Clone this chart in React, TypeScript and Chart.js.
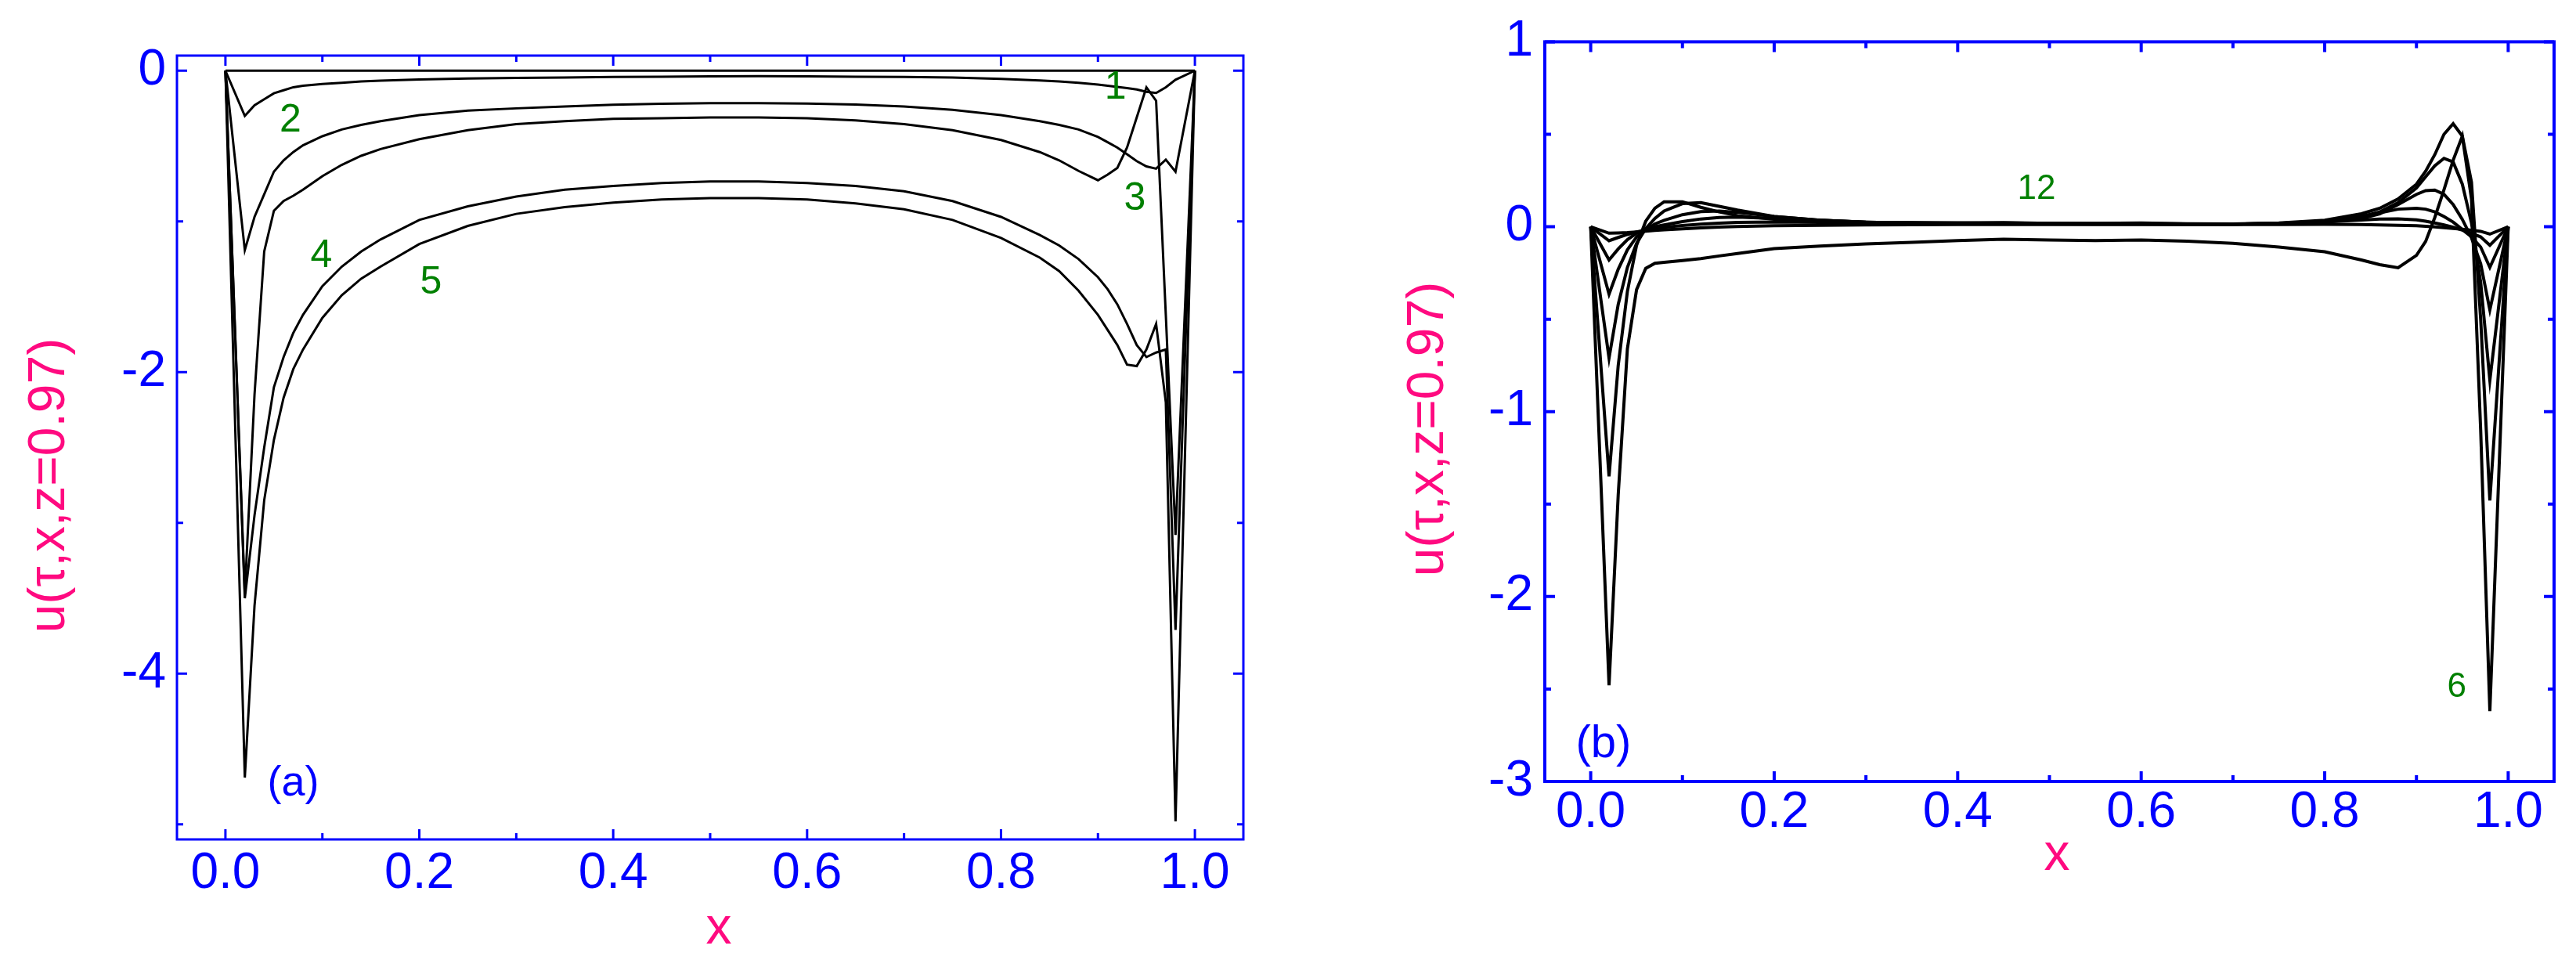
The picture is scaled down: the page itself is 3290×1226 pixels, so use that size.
import React, { useEffect, useRef } from "react";
import { Chart, registerables } from "chart.js";

Chart.register(...registerables);

// ---------------- data ----------------
const X_GRID = [0, 0.02, 0.03, 0.04, 0.05, 0.06, 0.07, 0.08, 0.1, 0.12, 0.14, 0.16, 0.2, 0.25, 0.3, 0.35, 0.4, 0.45, 0.5, 0.55, 0.6, 0.65, 0.7, 0.75, 0.8, 0.84, 0.86, 0.88, 0.9, 0.91, 0.92, 0.93, 0.94, 0.95, 0.96, 0.97, 0.98, 1.0];

// panel (a)
const A0 = [0, 0, 0, 0, 0, 0, 0, 0, 0, 0, 0, 0, 0, 0, 0, 0, 0, 0, 0, 0, 0, 0, 0, 0, 0, 0, 0, 0, 0, 0, 0, 0, 0, 0, 0, 0, 0, 0];
const A1 = [0, -0.30, -0.23, -0.19, -0.15, -0.13, -0.11, -0.10,
  -0.088, -0.08, -0.072, -0.066,
  -0.058, -0.052, -0.048, -0.045, -0.042, -0.04, -0.038, -0.037, -0.038, -0.04, -0.042, -0.046, -0.055,
  -0.065, -0.072, -0.08, -0.092,
  -0.1, -0.108, -0.116, -0.125, -0.14, -0.148, -0.11, -0.06,
  0];
const A2 = [0, -1.19, -0.97, -0.82, -0.67, -0.595, -0.54, -0.495,
  -0.435, -0.39, -0.36, -0.335,
  -0.295, -0.265, -0.25, -0.238, -0.226, -0.22, -0.216, -0.215, -0.218, -0.225, -0.238, -0.26, -0.295,
  -0.335, -0.36, -0.39, -0.44,
  -0.475, -0.51, -0.555, -0.6, -0.635, -0.65, -0.59, -0.67,
  0];
const A3 = [0, -3.47, -2.15, -1.2, -0.93, -0.865, -0.83, -0.79,
  -0.70, -0.625, -0.565, -0.52,
  -0.455, -0.395, -0.355, -0.335, -0.32, -0.315, -0.31, -0.31, -0.315, -0.33, -0.355, -0.395, -0.46,
  -0.54, -0.595, -0.665, -0.727,
  -0.69, -0.645, -0.51, -0.31, -0.11, -0.2, -1.62, -3.08,
  0];
const A4 = [0, -3.5, -2.95, -2.5, -2.1, -1.9, -1.74, -1.62,
  -1.43, -1.30, -1.20, -1.12,
  -0.99, -0.90, -0.835, -0.79, -0.765, -0.745, -0.735, -0.735, -0.745, -0.765, -0.80, -0.865, -0.97,
  -1.09, -1.16, -1.25, -1.37,
  -1.45, -1.55, -1.68, -1.82, -1.90, -1.87, -1.85, -3.71,
  0];
const A5 = [0, -4.69, -3.55, -2.85, -2.45, -2.17, -1.98, -1.85,
  -1.64, -1.49, -1.38, -1.30,
  -1.15, -1.03, -0.95, -0.905, -0.875, -0.855, -0.845, -0.845, -0.855, -0.88, -0.92, -0.99, -1.11,
  -1.24, -1.33, -1.46, -1.62,
  -1.72, -1.82, -1.95, -1.96, -1.85, -1.68, -2.2, -4.98,
  0];

// panel (b)
const B6 = [0, -2.48, -1.45, -0.66, -0.34, -0.225, -0.198, -0.192,
  -0.183, -0.172, -0.158, -0.145,
  -0.118, -0.105, -0.093, -0.085, -0.075, -0.068, -0.072, -0.075, -0.072, -0.078, -0.09, -0.11, -0.135,
  -0.18, -0.205, -0.222, -0.155,
  -0.08, 0.05, 0.2, 0.36, 0.49, 0.15, -1.1, -2.62,
  0];
const B7 = [0, -1.35, -0.75, -0.35, -0.1, 0.03, 0.1, 0.135,
  0.135, 0.105, 0.08, 0.06,
  0.04, 0.028, 0.022, 0.02, 0.02, 0.022, 0.018, 0.018, 0.02, 0.016, 0.015, 0.02, 0.035,
  0.07, 0.1, 0.15, 0.23,
  0.3, 0.39, 0.5, 0.557, 0.49, 0.24, -0.5, -1.48,
  0];
const B8 = [0, -0.71, -0.42, -0.22, -0.09, -0.01, 0.045, 0.085,
  0.125, 0.13, 0.11, 0.09,
  0.055, 0.035, 0.025, 0.022, 0.02, 0.02, 0.018, 0.017, 0.016, 0.015, 0.014, 0.018, 0.03,
  0.055, 0.08, 0.13, 0.21,
  0.27, 0.33, 0.37, 0.35, 0.23, 0.02, -0.3, -0.83,
  0];
const B9 = [0, -0.365, -0.23, -0.125, -0.055, -0.015, 0.015, 0.035,
  0.065, 0.082, 0.085, 0.078,
  0.055, 0.035, 0.025, 0.02, 0.02, 0.018, 0.017, 0.016, 0.016, 0.015, 0.014, 0.016, 0.025,
  0.045, 0.07, 0.12, 0.175,
  0.195, 0.198, 0.175, 0.12, 0.04, -0.06, -0.2, -0.45,
  0];
const B10 = [0, -0.18, -0.12, -0.07, -0.035, -0.015, 0.0, 0.01,
  0.028, 0.042, 0.05, 0.052,
  0.045, 0.035, 0.025, 0.02, 0.018, 0.017, 0.016, 0.015, 0.015, 0.014, 0.014, 0.018, 0.03,
  0.055, 0.075, 0.095, 0.10,
  0.095, 0.08, 0.055, 0.025, -0.015, -0.055, -0.11, -0.22,
  0];
const B11 = [0, -0.076, -0.058, -0.042, -0.028, -0.018, -0.01, -0.003,
  0.007, 0.014, 0.019, 0.023,
  0.026, 0.024, 0.02, 0.018, 0.016, 0.015, 0.015, 0.014, 0.014, 0.013, 0.014, 0.018, 0.026,
  0.036, 0.041, 0.043, 0.037,
  0.03, 0.02, 0.01, -0.003, -0.018, -0.035, -0.055, -0.10,
  0];
const B12 = [0, -0.035, -0.034, -0.032, -0.028, -0.024, -0.02, -0.017,
  -0.011, -0.006, -0.002, 0.001,
  0.005, 0.008, 0.01, 0.011, 0.012, 0.012, 0.012, 0.012, 0.012, 0.012, 0.012, 0.012, 0.013,
  0.012, 0.01, 0.008, 0.005,
  0.002, -0.001, -0.005, -0.009, -0.014, -0.019, -0.025, -0.04,
  0];

// ticks
const X_MAJOR = [0, 0.2, 0.4, 0.6, 0.8, 1.0];
const X_MINOR = [0.1, 0.3, 0.5, 0.7, 0.9];
const A_Y_MAJOR = [0, -2, -4];
const A_Y_MINOR = [-1, -3, -5];
const B_Y_MAJOR = [1, 0, -1, -2, -3];
const B_Y_MINOR = [0.5, -0.5, -1.5, -2.5];

// curve labels
const A_NOTE_TEXT = ["1", "2", "3", "4", "5"];
const A_NOTE_X = [0.918, 0.067, 0.938, 0.099, 0.212];
const A_NOTE_Y = [-0.115, -0.33, -0.85, -1.23, -1.41];
const B_NOTE_TEXT = ["12", "6"];
const B_NOTE_X = [0.486, 0.944];
const B_NOTE_Y = [0.2, -2.49];
const A_TAG = { text: "(a)", x: 0.07, y: -4.73 };
const B_TAG = { text: "(b)", x: 0.014, y: -2.8 };

const Y_TITLE = "u(\u03c4,x,z=0.97)";
const X_TITLE = "x";

// ---------------- style ----------------
const BLUE = "#0000ff";
const PINK = "#ff0a80";
const GREEN = "#008000";
const FONT = "'Liberation Sans', Arial, sans-serif";

const PANEL_A = {
  left: 0, width: 1640, height: 1226,
  area: { left: 226, top: 71, right: 1588, bottom: 1072 },
  yMin: -5.1, yMax: 0.1,
  series: [A0, A1, A2, A3, A4, A5],
  yMajor: A_Y_MAJOR, yMinor: A_Y_MINOR,
  noteText: A_NOTE_TEXT, noteX: A_NOTE_X, noteY: A_NOTE_Y, noteSize: 50,
  tag: A_TAG, tagSize: 54,
  lineWidth: 3, frameWidth: 3,
  xPad: 6, yPad: 14,
  yTitle: { x: 64, y: 620 }, xTitle: { x: 918, y: 1205 },
};
const PANEL_B = {
  left: 1640, width: 1650, height: 1226,
  area: { left: 333, top: 50, right: 1622, bottom: 998 },
  yMin: -3, yMax: 1,
  series: [B6, B7, B8, B9, B10, B11, B12],
  yMajor: B_Y_MAJOR, yMinor: B_Y_MINOR,
  noteText: B_NOTE_TEXT, noteX: B_NOTE_X, noteY: B_NOTE_Y, noteSize: 44,
  tag: B_TAG, tagSize: 58,
  lineWidth: 4, frameWidth: 4,
  xPad: 2, yPad: 15,
  yTitle: { x: 185, y: 548 }, xTitle: { x: 987, y: 1111 },
};

function makeFramePlugin(cfg: any) {
  return {
    id: "frameAndNotes",
    afterDraw(chart: any) {
      const { ctx, chartArea: a, scales } = chart;
      const xs = scales.x;
      const ys = scales.y;
      ctx.save();
      ctx.strokeStyle = BLUE;
      ctx.lineWidth = cfg.frameWidth;
      ctx.lineCap = "butt";
      ctx.strokeRect(a.left, a.top, a.right - a.left, a.bottom - a.top);
      const major = 13;
      const minor = 8;
      const xt = (vals: number[], len: number) => {
        vals.forEach((v) => {
          const px = xs.getPixelForValue(v);
          ctx.beginPath();
          ctx.moveTo(px, a.bottom);
          ctx.lineTo(px, a.bottom - len);
          ctx.moveTo(px, a.top);
          ctx.lineTo(px, a.top + len);
          ctx.stroke();
        });
      };
      const yt = (vals: number[], len: number) => {
        vals.forEach((v) => {
          const py = ys.getPixelForValue(v);
          ctx.beginPath();
          ctx.moveTo(a.left, py);
          ctx.lineTo(a.left + len, py);
          ctx.moveTo(a.right, py);
          ctx.lineTo(a.right - len, py);
          ctx.stroke();
        });
      };
      xt(X_MAJOR, major);
      xt(X_MINOR, minor);
      yt(cfg.yMajor, major);
      yt(cfg.yMinor, minor);

      // curve labels
      ctx.fillStyle = GREEN;
      ctx.font = `${cfg.noteSize}px ${FONT}`;
      ctx.textAlign = "center";
      ctx.textBaseline = "middle";
      cfg.noteText.forEach((t: string, i: number) => {
        ctx.fillText(t, xs.getPixelForValue(cfg.noteX[i]), ys.getPixelForValue(cfg.noteY[i]));
      });
      ctx.fillStyle = BLUE;
      ctx.font = `${cfg.tagSize}px ${FONT}`;
      ctx.fillText(cfg.tag.text, xs.getPixelForValue(cfg.tag.x), ys.getPixelForValue(cfg.tag.y));

      // axis titles
      ctx.fillStyle = PINK;
      ctx.font = `66px ${FONT}`;
      ctx.textAlign = "center";
      ctx.textBaseline = "alphabetic";
      ctx.fillText(X_TITLE, cfg.xTitle.x, cfg.xTitle.y);
      ctx.save();
      ctx.translate(cfg.yTitle.x, cfg.yTitle.y);
      ctx.rotate(-Math.PI / 2);
      ctx.textBaseline = "middle";
      ctx.fillText(Y_TITLE, 0, 0);
      ctx.restore();
      ctx.restore();
    },
  };
}

function Panel({ cfg }: { cfg: any }) {
  const ref = useRef<HTMLCanvasElement | null>(null);
  useEffect(() => {
    if (!ref.current) return;
    const datasets = cfg.series.map((ys: number[]) => ({
      data: ys.map((y, i) => ({ x: X_GRID[i], y })),
      borderColor: "#000000",
      borderWidth: cfg.lineWidth,
      pointRadius: 0,
      tension: 0,
      fill: false,
    }));
    const chart = new Chart(ref.current, {
      type: "line",
      data: { datasets },
      options: {
        animation: false,
        responsive: false,
        devicePixelRatio: 1,
        layout: {
          padding: { left: 0, top: cfg.area.top, right: cfg.width - cfg.area.right, bottom: 0 },
        },
        plugins: { legend: { display: false }, tooltip: { enabled: false } },
        scales: {
          x: {
            type: "linear",
            min: -0.05,
            max: 1.05,
            grid: { display: false, drawTicks: false },
            border: { display: false },
            afterBuildTicks: (s: any) => {
              s.ticks = X_MAJOR.map((v) => ({ value: v }));
            },
            afterFit: (s: any) => {
              s.height = cfg.height - cfg.area.bottom;
            },
            ticks: {
              color: BLUE,
              font: { family: FONT, size: 64 },
              padding: cfg.xPad,
              autoSkip: false,
              maxRotation: 0,
              callback: (v: any) => Number(v).toFixed(1),
            },
          },
          y: {
            type: "linear",
            min: cfg.yMin,
            max: cfg.yMax,
            grid: { display: false, drawTicks: false },
            border: { display: false },
            afterBuildTicks: (s: any) => {
              s.ticks = cfg.yMajor.map((v: number) => ({ value: v }));
            },
            afterFit: (s: any) => {
              s.width = cfg.area.left;
            },
            ticks: {
              color: BLUE,
              font: { family: FONT, size: 64 },
              padding: cfg.yPad,
              autoSkip: false,
              callback: (v: any) => String(v),
            },
          },
        },
      },
      plugins: [makeFramePlugin(cfg)],
    } as any);
    return () => chart.destroy();
  }, [cfg]);
  return (
    <canvas
      ref={ref}
      width={cfg.width}
      height={cfg.height}
      style={{ position: "absolute", left: cfg.left, top: 0, width: cfg.width, height: cfg.height, display: "block" }}
    />
  );
}

export default function App() {
  return (
    <div style={{ position: "absolute", left: 0, top: 0, width: 3290, height: 1226, background: "#ffffff" }}>
      <Panel cfg={PANEL_A} />
      <Panel cfg={PANEL_B} />
    </div>
  );
}
